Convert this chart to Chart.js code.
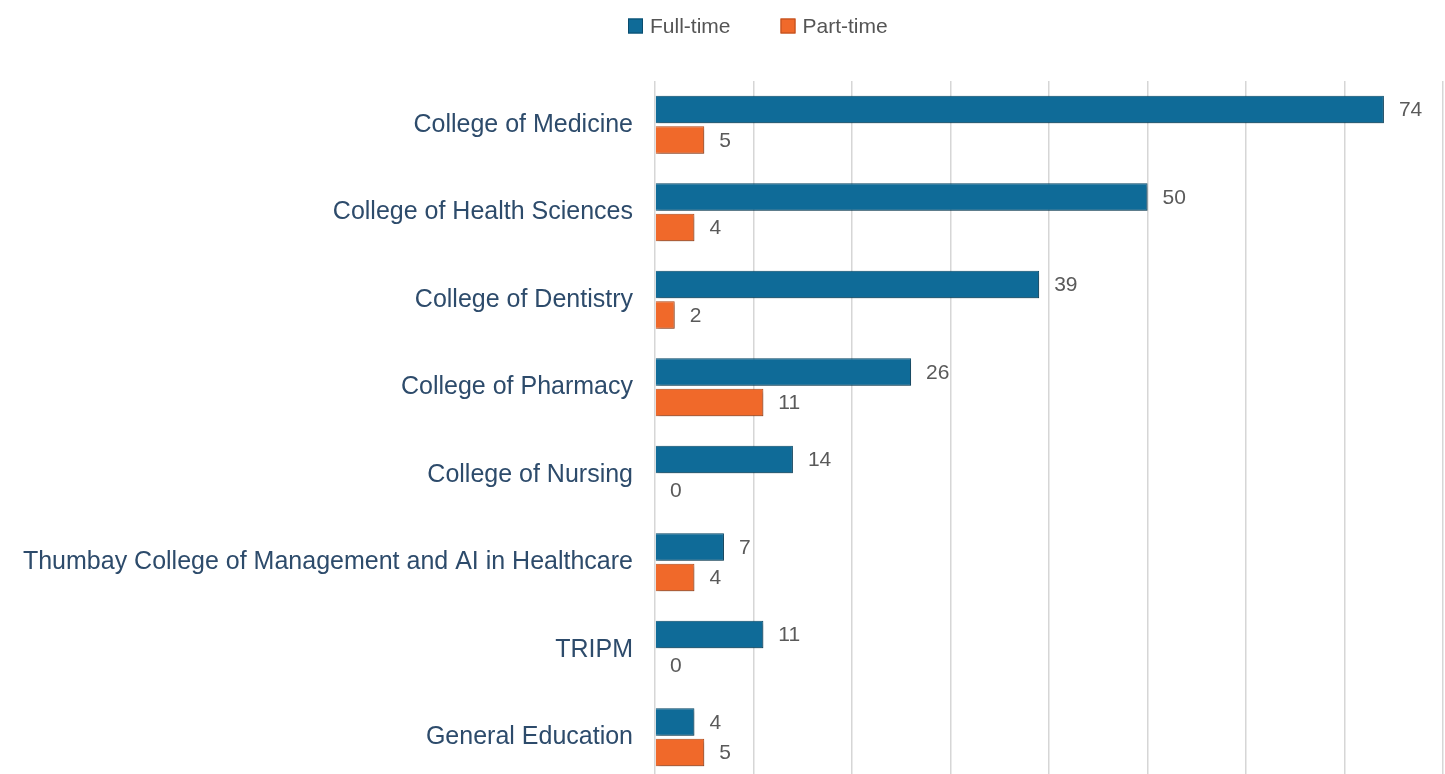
<!DOCTYPE html>
<html>
<head>
<meta charset="utf-8">
<script src="https://cdn.jsdelivr.net/npm/chart.js@4/dist/chart.umd.min.js"></script>
<style>
html,body{margin:0;padding:0;background:#fff;overflow:hidden;}
canvas{display:block;}
</style>
</head>
<body>
<canvas id="c" width="1445" height="781"></canvas>
<script>
const categories = [
  "College of Medicine",
  "College of Health Sciences",
  "College of Dentistry",
  "College of Pharmacy",
  "College of Nursing",
  "Thumbay College of Management and AI in Healthcare",
  "TRIPM",
  "General Education"
];
const fullTime = [74, 50, 39, 26, 14, 7, 11, 4];
const partTime = [5, 4, 2, 11, 0, 4, 0, 5];
const seriesNames = ["Full-time", "Part-time"];
const xTicks = [0, 10, 20, 30, 40, 50, 60, 70, 80];

const BLUE = "#0f6b98", BLUE_EDGE = "#0a4c6d";
const ORANGE = "#f0692a", ORANGE_EDGE = "#b84d1c";

const shadowPlugin = {
  id: "shadow",
  beforeDatasetDraw(chart) {
    const ctx = chart.ctx;
    ctx.save();
    ctx.shadowColor = "rgba(0,0,0,0.3)";
    ctx.shadowBlur = 4;
    ctx.shadowOffsetX = 2;
    ctx.shadowOffsetY = 2;
  },
  afterDatasetDraw(chart) {
    chart.ctx.restore();
  }
};

const valueLabels = {
  id: "valueLabels",
  afterDatasetsDraw(chart) {
    const ctx = chart.ctx;
    ctx.save();
    ctx.font = "21px 'Liberation Sans', Arial, sans-serif";
    ctx.fillStyle = "#5a5a5a";
    ctx.textAlign = "left";
    ctx.textBaseline = "middle";
    chart.data.datasets.forEach((ds, di) => {
      const meta = chart.getDatasetMeta(di);
      meta.data.forEach((el, i) => {
        ctx.fillText(String(ds.data[i]), el.x + 15, el.y + 1);
      });
    });
    ctx.restore();
  }
};

const customLegend = {
  id: "customLegend",
  afterDraw(chart) {
    const ctx = chart.ctx;
    ctx.save();
    ctx.font = "21px 'Liberation Sans', Arial, sans-serif";
    ctx.textBaseline = "middle";
    ctx.textAlign = "left";
    let x = 628;
    const y = 26;
    chart.data.datasets.forEach((ds, i) => {
      ctx.fillStyle = ds.backgroundColor;
      ctx.fillRect(x, y - 7.5, 15, 15);
      ctx.strokeStyle = ds.borderColor;
      ctx.lineWidth = 1;
      ctx.strokeRect(x + 0.5, y - 7, 14, 14);
      ctx.fillStyle = "#555555";
      ctx.fillText(ds.label, x + 22, y + 1);
      const w = ctx.measureText(ds.label).width;
      x += 22 + w + 50;
    });
    ctx.restore();
  }
};

new Chart(document.getElementById("c"), {
  type: "bar",
  data: {
    labels: categories,
    datasets: [
      { label: seriesNames[0], data: fullTime, backgroundColor: BLUE, borderColor: BLUE_EDGE, borderWidth: 1 },
      { label: seriesNames[1], data: partTime, backgroundColor: ORANGE, borderColor: ORANGE_EDGE, borderWidth: 1 }
    ]
  },
  options: {
    indexAxis: "y",
    responsive: false,
    animation: false,
    devicePixelRatio: 1,
    layout: { padding: { top: 81, right: 2, bottom: 0, left: 0 } },
    datasets: { bar: { categoryPercentage: 0.7, barPercentage: 0.9 } },
    plugins: { legend: { display: false }, tooltip: { enabled: false } },
    scales: {
      x: {
        min: xTicks[0],
        max: xTicks[xTicks.length - 1],
        afterBuildTicks(scale) { scale.ticks = xTicks.map(v => ({ value: v })); },
        afterFit(scale) { scale.height = 0; },
        ticks: { display: false },
        grid: { color: "#d6d6d6", lineWidth: 1.5, drawTicks: false },
        border: { display: false }
      },
      y: {
        afterFit(scale) { scale.width = 655; scale.paddingTop = 0; scale.paddingBottom = 0; },
        ticks: {
          color: "#2d4b6b",
          padding: 22,
          font: { family: "'Liberation Sans', Arial, sans-serif", size: 25 }
        },
        grid: { display: false, drawTicks: false },
        border: { display: false }
      }
    }
  },
  plugins: [shadowPlugin, valueLabels, customLegend]
});
</script>
</body>
</html>
